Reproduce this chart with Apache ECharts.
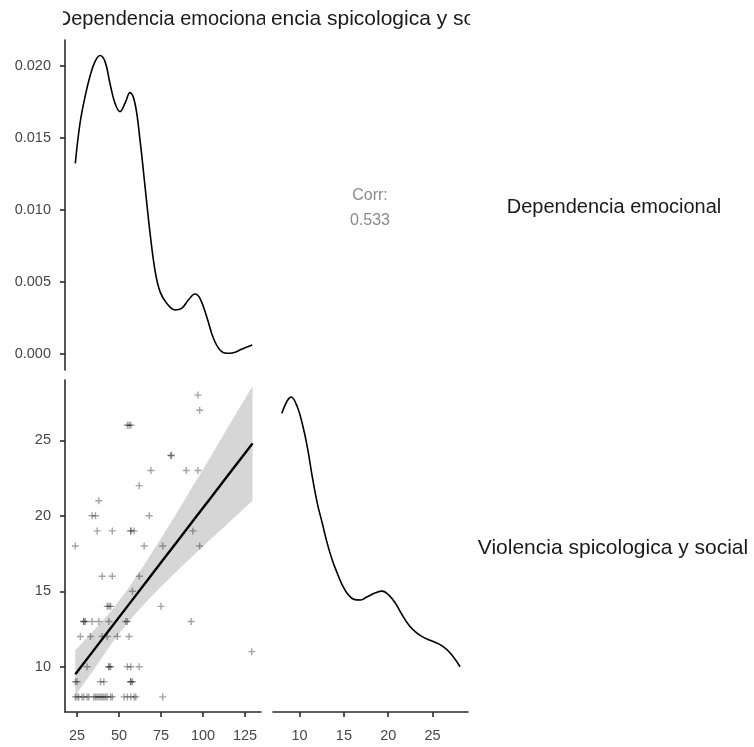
<!DOCTYPE html>
<html>
<head>
<meta charset="utf-8">
<script src="https://cdn.jsdelivr.net/npm/echarts/dist/echarts.min.js"></script>
<style>html,body{margin:0;padding:0;background:#fff}#c{width:754px;height:747px}</style>
</head>
<body>
<div id="c"></div>
<script>
// ---- data ----
const varNames = ["Dependencia emocional", "Violencia spicologica y social"];
const corrLabel = "Corr:";
const corrValue = "0.533";

// density of Dependencia emocional (top-left)
const demX = [24, 26.8, 29.8, 32.7, 35.7, 38.7, 41.7, 44.6, 47.6, 50.6, 53.6, 56.5, 59.5, 62.5, 65.5, 68.5, 71.4, 74.4, 78.4, 83.3, 87.3, 91.3, 95.2, 98.2, 102.2, 106.2, 110.1, 114.1, 118.1, 123.0, 129.3];
const demD = [0.01324, 0.01602, 0.01787, 0.01926, 0.0203, 0.02072, 0.0203, 0.0188, 0.01741, 0.01683, 0.01741, 0.01815, 0.01741, 0.01486, 0.01162, 0.00838, 0.00583, 0.00433, 0.00352, 0.00306, 0.00317, 0.00375, 0.00417, 0.00387, 0.00259, 0.00109, 0.00028, 0.00005, 0.00009, 0.00033, 0.00063];

// density of Violencia (bottom-right)
const vioX = [8.0, 9.06, 9.74, 10.3, 10.87, 11.43, 12.0, 12.56, 13.12, 13.69, 14.25, 14.81, 15.38, 16.12, 16.88, 17.63, 18.57, 19.32, 20.07, 20.82, 21.58, 22.32, 23.27, 24.2, 25.14, 26.09, 27.02, 28.1];
const vioD = [0.1193, 0.125, 0.1216, 0.1157, 0.1075, 0.0970, 0.0876, 0.0806, 0.0735, 0.0676, 0.0630, 0.0589, 0.0559, 0.0538, 0.0536, 0.0547, 0.0561, 0.0567, 0.0553, 0.0524, 0.0483, 0.0448, 0.0418, 0.0401, 0.0389, 0.0374, 0.0348, 0.0301];

// scatter (Dependencia emocional vs Violencia)
const scatX = [97, 98, 55, 56, 57, 81, 81, 69, 90, 97, 62, 38, 34, 36, 68, 37, 46, 57, 57, 59, 94, 24, 65, 76, 98, 40, 46, 62, 58, 43, 44, 45, 75,
  29, 29, 30, 34, 38, 44, 54, 55, 93, 27, 33, 40, 43, 49, 56, 129, 31, 44, 44, 45, 55, 57, 62, 24, 25, 39, 41, 57, 57, 58,
  24, 25, 26, 28, 29, 31, 32, 35, 36, 37, 38, 39, 40, 41, 42, 43, 45, 46, 53, 55, 57, 59, 60, 76];
const scatY = [28, 27, 26, 26, 26, 24, 24, 23, 23, 23, 22, 21, 20, 20, 20, 19, 19, 19, 19, 19, 19, 18, 18, 18, 18, 16, 16, 16, 15, 14, 14, 14, 14,
  13, 13, 13, 13, 13, 13, 13, 13, 13, 12, 12, 12, 12, 12, 12, 11, 10, 10, 10, 10, 10, 10, 10, 9, 9, 9, 9, 9, 9, 9,
  8, 8, 8, 8, 8, 8, 8, 8, 8, 8, 8, 8, 8, 8, 8, 8, 8, 8, 8, 8, 8, 8, 8, 8];

// linear fit with confidence band
const fitX = [24, 35, 45, 55, 65, 75, 85, 95, 105, 115, 125, 129.5];
const fitY = [9.5, 11.1, 12.55, 14.0, 15.45, 16.9, 18.35, 19.8, 21.25, 22.7, 24.15, 24.8];
const ciLow = [8.1, 9.8, 11.45, 12.9, 14.15, 15.3, 16.4, 17.45, 18.5, 19.5, 20.55, 21.0];
const ciHigh = [11.1, 12.4, 13.65, 15.1, 16.75, 18.5, 20.3, 22.15, 24.0, 25.9, 27.75, 28.6];

// ticks
const demTicks = [25, 50, 75, 100, 125];
const demDensTicks = [0, 0.005, 0.010, 0.015, 0.020];
const vioTicks = [10, 15, 20, 25];

// ---- chart ----
const FONT = '"Liberation Sans", Arial, sans-serif';
const AXC = '#2b2b2b';
const LBC = '#474747';
const TS = 14.5;
const chart = echarts.init(document.getElementById('c'), null, {renderer: 'canvas'});

function tick(vals) { return {show: true, length: 5, customValues: vals, lineStyle: {color: AXC, width: 1.6}}; }
function lab(vals, margin, fmt) {
  const o = {show: true, customValues: vals, margin: margin, color: LBC, fontFamily: FONT, fontSize: TS};
  if (fmt) o.formatter = fmt;
  return o;
}
const axLine = {show: true, onZero: false, lineStyle: {color: AXC, width: 1.6}};

const option = {
  backgroundColor: '#fff',
  animation: false,
  grid: [
    {left: 65, top: 40, width: 196, height: 330},
    {left: 65, top: 380, width: 196, height: 332},
    {left: 273, top: 380, width: 195, height: 332}
  ],
  xAxis: [
    {type: 'value', gridIndex: 0, min: 17.86, max: 134.52, show: false, splitLine: {show: false}},
    {type: 'value', gridIndex: 1, min: 17.86, max: 134.52, axisLine: axLine, splitLine: {show: false},
      axisTick: tick(demTicks), axisLabel: lab(demTicks, 16)},
    {type: 'value', gridIndex: 2, min: 7, max: 29, axisLine: axLine, splitLine: {show: false},
      axisTick: tick(vioTicks), axisLabel: lab(vioTicks, 16)}
  ],
  yAxis: [
    {type: 'value', gridIndex: 0, min: -0.00111, max: 0.0218, axisLine: axLine, splitLine: {show: false},
      axisTick: tick(demDensTicks), axisLabel: lab(demDensTicks, 14, v => v.toFixed(3))},
    {type: 'value', gridIndex: 1, min: 7, max: 29, axisLine: axLine, splitLine: {show: false},
      axisTick: tick(vioTicks), axisLabel: lab(vioTicks, 14)},
    {type: 'value', gridIndex: 2, min: 0.01416, max: 0.131, show: false, splitLine: {show: false}}
  ],
  series: [
    {
      type: 'line', xAxisIndex: 0, yAxisIndex: 0, smooth: 0.4, showSymbol: false,
      data: demX.map((x, i) => [x, demD[i]]),
      lineStyle: {color: '#000', width: 1.6}
    },
    {
      type: 'custom', xAxisIndex: 1, yAxisIndex: 1, z: 1,
      data: fitX.map((x, i) => [x, ciLow[i], ciHigh[i]]),
      encode: {x: 0, y: [1, 2]},
      renderItem: function (params, api) {
        if (params.dataIndex !== 0) return;
        const pts = [];
        for (let i = 0; i < fitX.length; i++) pts.push(api.coord([fitX[i], ciHigh[i]]));
        for (let i = fitX.length - 1; i >= 0; i--) pts.push(api.coord([fitX[i], ciLow[i]]));
        return {type: 'polygon', shape: {points: pts}, style: {fill: '#d6d6d6'}};
      }
    },
    {
      type: 'scatter', xAxisIndex: 1, yAxisIndex: 1, z: 3,
      symbol: 'path://M2,0H3V2H5V3H3V5H2V3H0V2H2Z', symbolSize: 7,
      data: scatX.map((x, i) => [x, scatY[i]]),
      itemStyle: {color: 'rgba(0,0,0,0.45)'}
    },
    {
      type: 'line', xAxisIndex: 1, yAxisIndex: 1, z: 4, showSymbol: false,
      data: fitX.map((x, i) => [x, fitY[i]]),
      lineStyle: {color: '#000', width: 2.4}
    },
    {
      type: 'line', xAxisIndex: 2, yAxisIndex: 2, smooth: 0.4, showSymbol: false,
      data: vioX.map((x, i) => [x, vioD[i]]),
      lineStyle: {color: '#000', width: 1.6}
    }
  ],
  graphic: [
    // column strip labels (clipped to their columns with white covers)
    {type: 'text', z: 10, x: 371.5, y: 19, style: {text: varNames[1], fill: '#1a1a1a', font: '21px ' + FONT, align: 'center', verticalAlign: 'middle'}},
    {type: 'rect', z: 11, shape: {x: 0, y: 0, width: 270, height: 37}, style: {fill: '#fff'}},
    {type: 'rect', z: 11, shape: {x: 470, y: 0, width: 284, height: 37}, style: {fill: '#fff'}},
    {type: 'text', z: 12, x: 164, y: 19, style: {text: varNames[0], fill: '#1a1a1a', font: '20px ' + FONT, align: 'center', verticalAlign: 'middle'}},
    {type: 'rect', z: 13, shape: {x: 0, y: 0, width: 63, height: 37}, style: {fill: '#fff'}},
    {type: 'rect', z: 13, shape: {x: 265, y: 0, width: 5, height: 37}, style: {fill: '#fff'}},
    // row strip labels
    {type: 'text', z: 10, x: 614, y: 207, style: {text: varNames[0], fill: '#1a1a1a', font: '20px ' + FONT, align: 'center', verticalAlign: 'middle'}},
    {type: 'text', z: 10, x: 613, y: 548, style: {text: varNames[1], fill: '#1a1a1a', font: '21px ' + FONT, align: 'center', verticalAlign: 'middle'}},
    // correlation
    {type: 'text', z: 10, x: 370, y: 196, style: {text: corrLabel, fill: '#8a8a8a', font: '16px ' + FONT, align: 'center', verticalAlign: 'middle'}},
    {type: 'text', z: 10, x: 370, y: 221, style: {text: corrValue, fill: '#8a8a8a', font: '16px ' + FONT, align: 'center', verticalAlign: 'middle'}}
  ]
};
chart.setOption(option);
</script>
</body>
</html>
